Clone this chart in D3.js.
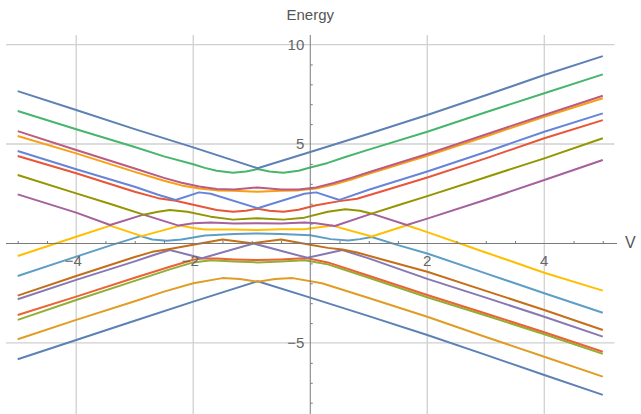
<!DOCTYPE html>
<html>
<head>
<meta charset="utf-8">
<script src="https://cdn.jsdelivr.net/npm/d3@7"></script>
<style>
  body { margin: 0; background: #fff; }
  svg { display: block; font-family: "Liberation Sans", Arial, sans-serif; }
</style>
</head>
<body>
<svg id="chart" width="641" height="414"></svg>
<script>
// energy levels vs V, sorted from lowest (level1) to highest (level16)
const level1 = [[-5,-5.82],[-4,-4.85],[-3,-3.88],[-2,-2.92],[-0.9,-1.9],[0,-2.72],[1,-3.65],[2,-4.6],[3,-5.6],[4,-6.61],[5,-7.61]];
const level2 = [[-5,-4.81],[-4,-3.84],[-3,-2.9],[-2.5,-2.42],[-2,-2.0],[-1.5,-1.74],[-1.2,-1.78],[-0.9,-1.92],[-0.6,-1.78],[-0.3,-1.74],[0.2,-2.0],[1,-2.74],[2,-3.68],[3,-4.7],[4,-5.69],[5,-6.69]];
const level3 = [[-5,-3.84],[-4,-2.84],[-3,-1.88],[-2.4,-1.3],[-2,-0.95],[-1.7,-0.84],[-1.3,-0.9],[-0.9,-0.95],[-0.5,-0.9],[-0.1,-0.84],[0.3,-1.05],[1,-1.72],[2,-2.7],[3,-3.62],[4,-4.56],[5,-5.55]];
const level4 = [[-5,-3.59],[-4,-2.67],[-3,-1.72],[-2.4,-1.17],[-2,-0.82],[-1.85,-0.75],[-1.6,-0.76],[-1.3,-0.8],[-0.9,-0.83],[-0.5,-0.8],[-0.2,-0.76],[-0.05,-0.74],[0.3,-0.95],[1,-1.62],[2,-2.59],[3,-3.52],[4,-4.46],[5,-5.44]];
const level5 = [[-5,-2.8],[-4,-1.83],[-3,-0.9],[-2.7,-0.6],[-2.4,-0.33],[-1.85,-0.74],[-0.97,0.0],[-0.05,-0.72],[0.55,-0.33],[1,-0.75],[2,-1.78],[3,-2.72],[4,-3.68],[5,-4.68]];
const level6 = [[-5,-2.62],[-4,-1.63],[-3,-0.68],[-2.7,-0.42],[-2.45,-0.3],[-2,-0.06],[-1.5,0.2],[-1.0,0.01],[-0.5,0.2],[0,-0.06],[0.3,-0.22],[0.55,-0.3],[0.8,-0.45],[1.2,-0.78],[2,-1.42],[3,-2.38],[4,-3.34],[5,-4.35]];
const level7 = [[-5,-1.63],[-4,-0.66],[-3.4,-0.08],[-2.9,0.37],[-2.7,0.2],[-2.45,0.14],[-2.2,0.2],[-1.8,0.4],[-1.3,0.48],[-0.9,0.5],[-0.5,0.48],[0,0.42],[0.35,0.22],[0.65,0.15],[0.85,0.22],[1.05,0.33],[1.5,-0.08],[2,-0.5],[3,-1.5],[4,-2.5],[5,-3.48]];
const level8 = [[-5,-0.63],[-4,0.34],[-3.42,0.9],[-2.88,0.37],[-2.22,0.9],[-2.0,0.78],[-1.8,0.7],[-1.3,0.7],[-0.9,0.68],[-0.5,0.72],[-0.1,0.72],[0.38,0.9],[1.05,0.35],[1.65,0.92],[2,0.57],[3,-0.45],[4,-1.47],[5,-2.37]];
const level9 = [[-5,2.47],[-4,1.55],[-3.42,0.93],[-2.85,1.45],[-2.25,0.9],[-2.0,1.02],[-1.7,1.05],[-1.3,1.0],[-0.9,1.02],[-0.5,1.0],[-0.1,1.05],[0.1,1.02],[0.42,0.88],[1.05,1.5],[1.65,0.93],[2,1.25],[3,2.2],[4,3.19],[5,4.2]];
const level10 = [[-5,3.44],[-4,2.52],[-3.4,1.97],[-2.85,1.45],[-2.6,1.6],[-2.4,1.68],[-2.1,1.6],[-1.7,1.35],[-1.32,1.2],[-0.9,1.27],[-0.46,1.2],[-0.1,1.3],[0.3,1.6],[0.6,1.72],[0.85,1.65],[1.05,1.5],[1.5,1.92],[2,2.38],[3,3.33],[4,4.28],[5,5.29]];
const level11 = [[-5,4.4],[-4,3.53],[-3,2.6],[-2.6,2.28],[-2.3,2.15],[-2.0,1.95],[-1.6,1.68],[-1.32,1.6],[-1.1,1.65],[-0.9,1.75],[-0.7,1.65],[-0.46,1.6],[-0.2,1.7],[0.1,1.92],[0.5,2.13],[0.8,2.25],[1.2,2.6],[2,3.32],[3,4.28],[4,5.29],[5,6.2]];
const level12 = [[-5,4.65],[-4,3.73],[-3,2.85],[-2.6,2.45],[-2.3,2.19],[-1.9,2.57],[-1.7,2.5],[-0.9,1.77],[-0.1,2.5],[0.1,2.57],[0.5,2.19],[1,2.7],[2,3.62],[3,4.6],[4,5.62],[5,6.54]];
const level13 = [[-5,5.4],[-4,4.53],[-3,3.6],[-2.5,3.15],[-2.2,2.92],[-1.9,2.76],[-1.6,2.67],[-1.3,2.65],[-0.9,2.6],[-0.5,2.65],[-0.2,2.67],[0.1,2.76],[0.4,2.96],[0.7,3.22],[1,3.5],[2,4.41],[3,5.38],[4,6.37],[5,7.3]];
const level14 = [[-5,5.65],[-4,4.7],[-3,3.77],[-2.5,3.3],[-2.2,3.05],[-1.9,2.86],[-1.6,2.74],[-1.3,2.72],[-0.9,2.82],[-0.5,2.72],[-0.2,2.72],[0.1,2.82],[0.4,3.04],[0.7,3.3],[1,3.58],[2,4.5],[3,5.48],[4,6.46],[5,7.43]];
const level15 = [[-5,6.66],[-4,5.74],[-3,4.85],[-2.5,4.38],[-2,3.98],[-1.8,3.8],[-1.6,3.66],[-1.32,3.56],[-1.1,3.62],[-0.9,3.74],[-0.7,3.62],[-0.46,3.56],[-0.2,3.66],[0,3.82],[0.3,4.05],[0.6,4.35],[1,4.72],[2,5.62],[3,6.6],[4,7.55],[5,8.5]];
const level16 = [[-5,7.66],[-4,6.71],[-3,5.75],[-2,4.83],[-0.9,3.78],[0,4.6],[1,5.52],[2,6.46],[3,7.45],[4,8.47],[5,9.42]];

const levels = [level1, level2, level3, level4, level5, level6, level7, level8,
  level9, level10, level11, level12, level13, level14, level15, level16];
const colors = ['#5E81B5', '#E19C24', '#8FB032', '#EB6235', '#8778B3', '#C56E1A', '#5D9EC7', '#FFBF00',
  '#A5609D', '#929600', '#E95536', '#6685D9', '#F89F13', '#BC5B80', '#47B66D', '#5E81B5'];

const xMajor = [-4, -2, 2, 4];
const yMajor = [-5, 5, 10];

const width = 641, height = 414;
const svg = d3.select('#chart');

const x = d3.scaleLinear().domain([-5.2, 5.2]).range([6, 614.5]);
const y = d3.scaleLinear().domain([-8.57, 10.48]).range([414, 35]);

// grid
svg.append('g').selectAll('line.vg').data(xMajor).enter().append('line')
  .attr('x1', d => x(d)).attr('x2', d => x(d))
  .attr('y1', y(10.48)).attr('y2', height)
  .attr('stroke', '#d0d0d0').attr('stroke-width', 1.3);
svg.append('g').selectAll('line.hg').data(yMajor).enter().append('line')
  .attr('x1', x(-5.2)).attr('x2', x(5.2))
  .attr('y1', d => y(d)).attr('y2', d => y(d))
  .attr('stroke', '#d0d0d0').attr('stroke-width', 1.3);

// curves
const line = d3.line()
  .x(d => x(d[0]))
  .y(d => y(d[1]))
  .curve(d3.curveLinear);

svg.append('g').selectAll('path').data(levels).enter().append('path')
  .attr('d', line)
  .attr('fill', 'none')
  .attr('stroke', (d, i) => colors[i])
  .attr('stroke-width', 2)
  .attr('stroke-linejoin', 'round');

// axes (ticks drawn inward, mathematica style)
const axisColor = '#7a7a7a';
const xAxis = d3.axisTop(x).tickValues(xMajor).tickSize(4).tickFormat('');
const xMinor = d3.axisTop(x).tickValues(d3.range(-5, 5.01, 0.5).filter(v => v % 2 !== 0)).tickSize(2.5).tickFormat('');
const yAxis = d3.axisRight(y).tickValues(yMajor).tickSize(4).tickFormat('');
const yMinor = d3.axisRight(y).tickValues(d3.range(-8, 10.01, 1).filter(v => v % 5 !== 0)).tickSize(2.5).tickFormat('');

const gx = svg.append('g').attr('transform', `translate(0,${y(0)})`);
gx.call(xAxis); gx.call(xMinor);
const gy = svg.append('g').attr('transform', `translate(${x(0)},0)`);
gy.call(yAxis); gy.call(yMinor);
svg.selectAll('.domain').remove();
svg.selectAll('.tick line').attr('stroke', axisColor);

svg.append('line').attr('x1', x(-5.2)).attr('x2', 617).attr('y1', y(0)).attr('y2', y(0))
  .attr('stroke', axisColor).attr('stroke-width', 1);
svg.append('line').attr('x1', x(0)).attr('x2', x(0)).attr('y1', 35).attr('y2', height)
  .attr('stroke', axisColor).attr('stroke-width', 1);

// tick labels
const fmt = v => (v < 0 ? '\u2212' : '') + Math.abs(v);
svg.append('g').selectAll('text').data(xMajor).enter().append('text')
  .attr('x', d => x(d) - (d < 0 ? 3 : 0)).attr('y', y(0) + 23)
  .attr('text-anchor', 'middle')
  .attr('font-size', 15).attr('fill', '#666')
  .text(fmt);
svg.append('g').selectAll('text').data(yMajor).enter().append('text')
  .attr('x', x(0) - 6).attr('y', d => y(d) + 5)
  .attr('text-anchor', 'end')
  .attr('font-size', 15).attr('fill', '#666')
  .text(fmt);

// axis labels
svg.append('text').attr('x', x(0)).attr('y', 20).attr('text-anchor', 'middle')
  .attr('font-size', 15).attr('fill', '#555').text('Energy');
svg.append('text').attr('x', 625).attr('y', y(0) + 5)
  .attr('font-size', 16).attr('fill', '#555').text('V');
</script>
</body>
</html>
